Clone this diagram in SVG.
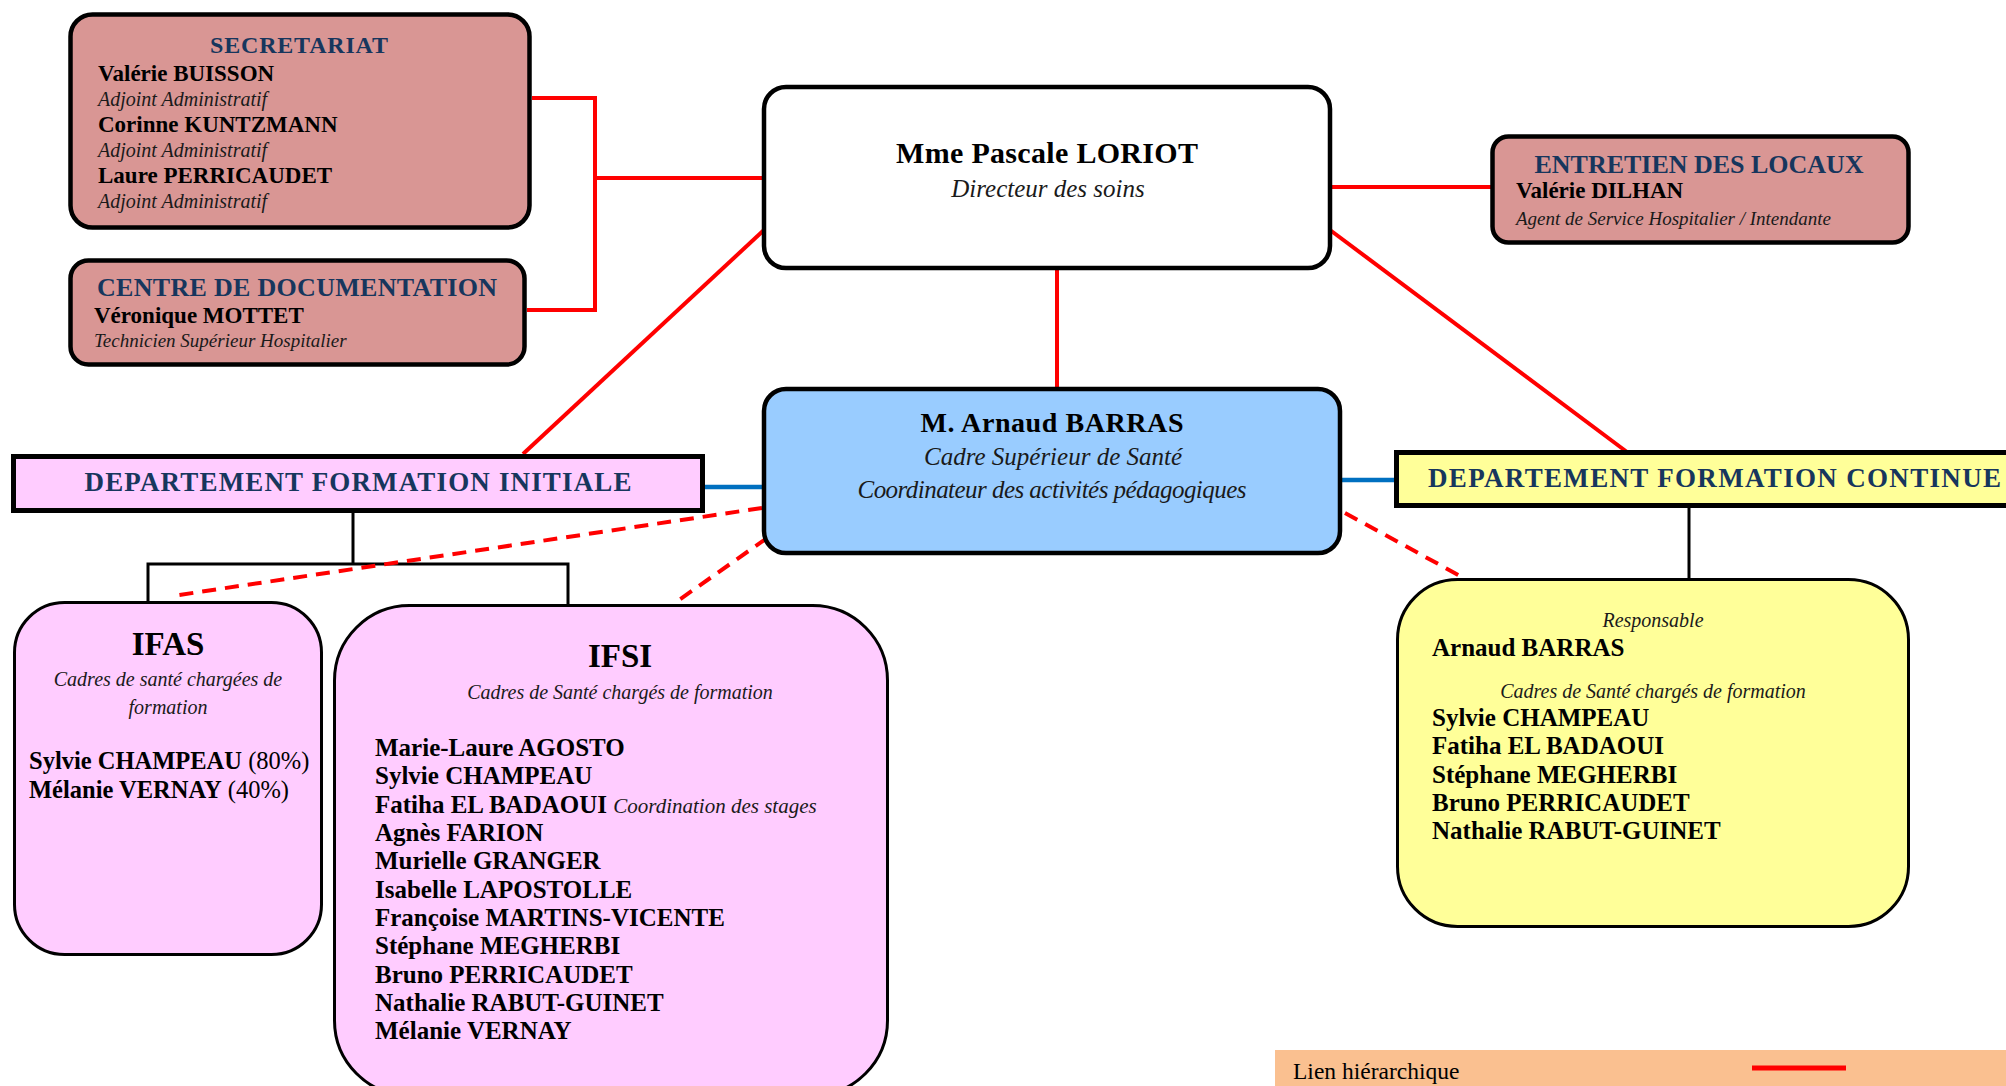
<svg xmlns="http://www.w3.org/2000/svg" width="2006" height="1086" viewBox="0 0 2006 1086">
<style>
  text { font-family: "Liberation Serif", "Times New Roman", serif; fill: #000; }
  .title { font-weight: bold; fill: #17365D; }
  .b { font-weight: bold; }
  .r { font-weight: normal; }
  .i { font-style: italic; fill: #1a1a1a; }
  .mid { text-anchor: middle; }
  .box { stroke: #000; stroke-width: 4.5; }
  .thick { stroke: #000; stroke-width: 5; }
  .thin { stroke: #000; stroke-width: 3; }
  .rose { fill: #D99694; }
  .white { fill: #FFFFFF; }
  .sky { fill: #99CCFF; }
  .pink { fill: #FFCCFF; }
  .yellow { fill: #FFFF99; }
  .red { stroke: #FF0000; stroke-width: 4; fill: none; }
  .dash { stroke: #FF0000; stroke-width: 4; stroke-dasharray: 14 9; fill: none; }
  .blue { stroke: #0070C0; stroke-width: 4.5; fill: none; }
  .blk { stroke: #000; stroke-width: 3; fill: none; }
  .nm { font-weight: bold; font-size: 25px; }
</style>

<g id="connectors">
  <polyline class="red" points="532,98 595,98 595,310 527,310"/>
  <line class="red" x1="595" y1="178" x2="764" y2="178"/>
  <line class="red" x1="1057" y1="268" x2="1057" y2="389"/>
  <line class="red" x1="1330" y1="187" x2="1492" y2="187"/>
  <line class="red" x1="764" y1="230" x2="523" y2="454"/>
  <line class="red" x1="1330" y1="230" x2="1627" y2="452"/>
  <line class="blue" x1="703" y1="487" x2="764" y2="487"/>
  <line class="blue" x1="1340" y1="480" x2="1396" y2="480"/>
  <line class="blk" x1="353" y1="511" x2="353" y2="564"/>
  <polyline class="blk" points="148,602 148,564 568,564 568,605"/>
  <line class="blk" x1="1689" y1="506" x2="1689" y2="580"/>
  <line class="dash" x1="762" y1="508" x2="179" y2="595"/>
  <line class="dash" x1="767" y1="538" x2="679" y2="600"/>
  <line class="dash" x1="1345" y1="513" x2="1462" y2="577"/>
</g>

<g id="secretariat">
  <rect class="box rose" x="70.5" y="14.5" width="459" height="213" rx="22"/>
  <text class="title mid" x="299" y="53" font-size="24" textLength="178">SECRETARIAT</text>
  <text class="b" x="98" y="81" font-size="23">Valérie BUISSON</text>
  <text class="i" x="98" y="106" font-size="20">Adjoint Administratif</text>
  <text class="b" x="98" y="132" font-size="23">Corinne KUNTZMANN</text>
  <text class="i" x="98" y="157" font-size="20">Adjoint Administratif</text>
  <text class="b" x="98" y="183" font-size="23">Laure PERRICAUDET</text>
  <text class="i" x="98" y="208" font-size="20">Adjoint Administratif</text>
</g>

<g id="documentation">
  <rect class="box rose" x="70.5" y="260.5" width="454" height="104" rx="18"/>
  <text class="title" x="97" y="296" font-size="26" textLength="400">CENTRE DE DOCUMENTATION</text>
  <text class="b" x="94" y="323" font-size="23">Véronique MOTTET</text>
  <text class="i" x="94" y="347" font-size="19">Technicien Supérieur Hospitalier</text>
</g>

<g id="loriot">
  <rect class="box white" x="764" y="87" width="566" height="181" rx="22"/>
  <text class="b mid" x="1047" y="163" font-size="30" textLength="302">Mme Pascale LORIOT</text>
  <text class="i mid" x="1048" y="197" font-size="25">Directeur des soins</text>
</g>

<g id="entretien">
  <rect class="box rose" x="1492.5" y="136.5" width="416" height="106" rx="16"/>
  <text class="title mid" x="1699" y="173" font-size="26" textLength="329">ENTRETIEN DES LOCAUX</text>
  <text class="b" x="1516" y="198" font-size="23">Valérie DILHAN</text>
  <text class="i" x="1516" y="225" font-size="19">Agent de Service Hospitalier / Intendante</text>
</g>

<g id="barras">
  <rect class="box sky" x="764" y="389" width="576" height="164" rx="22"/>
  <text class="b mid" x="1052" y="432" font-size="28" textLength="263">M. Arnaud BARRAS</text>
  <text class="i mid" x="1053" y="465" font-size="25">Cadre Supérieur de Santé</text>
  <text class="i mid" x="1052" y="498" font-size="25" textLength="389">Coordinateur des activités pédagogiques</text>
</g>

<g id="dept-initiale">
  <rect class="thick pink" x="13.5" y="456.5" width="689" height="54"/>
  <text class="title mid" x="358" y="491" font-size="27" textLength="547">DEPARTEMENT FORMATION INITIALE</text>
</g>

<g id="dept-continue">
  <rect class="thick yellow" x="1396.5" y="452.5" width="640" height="53"/>
  <text class="title" x="1428" y="487" font-size="27" textLength="573">DEPARTEMENT FORMATION CONTINUE</text>
</g>

<g id="ifas">
  <rect class="thin pink" x="14.5" y="602.5" width="307" height="352" rx="50"/>
  <text class="b mid" x="168" y="655" font-size="33">IFAS</text>
  <text class="i mid" x="168" y="686" font-size="20">Cadres de santé chargées de</text>
  <text class="i mid" x="168" y="714" font-size="20">formation</text>
  <text class="b" x="29" y="769" font-size="24.5">Sylvie CHAMPEAU<tspan class="r"> (80%)</tspan></text>
  <text class="b" x="29" y="798" font-size="24.5">Mélanie VERNAY<tspan class="r"> (40%)</tspan></text>
</g>

<g id="ifsi">
  <rect class="thin pink" x="334.5" y="605.5" width="553" height="490" rx="75"/>
  <text class="b mid" x="620" y="667" font-size="33">IFSI</text>
  <text class="i mid" x="620" y="699" font-size="20">Cadres de Santé chargés de formation</text>
  <text class="nm" x="375" y="756">Marie-Laure AGOSTO</text>
  <text class="nm" x="375" y="784">Sylvie CHAMPEAU</text>
  <text class="nm" x="375" y="813">Fatiha EL BADAOUI <tspan class="i" font-weight="normal" font-size="21">Coordination des stages</tspan></text>
  <text class="nm" x="375" y="841">Agnès FARION</text>
  <text class="nm" x="375" y="869">Murielle GRANGER</text>
  <text class="nm" x="375" y="898">Isabelle LAPOSTOLLE</text>
  <text class="nm" x="375" y="926">Françoise MARTINS-VICENTE</text>
  <text class="nm" x="375" y="954">Stéphane MEGHERBI</text>
  <text class="nm" x="375" y="983">Bruno PERRICAUDET</text>
  <text class="nm" x="375" y="1011">Nathalie RABUT-GUINET</text>
  <text class="nm" x="375" y="1039">Mélanie VERNAY</text>
</g>

<g id="formation-continue">
  <rect class="thin yellow" x="1397.5" y="579.5" width="511" height="347" rx="60"/>
  <text class="i mid" x="1653" y="627" font-size="20">Responsable</text>
  <text class="nm" x="1432" y="656">Arnaud BARRAS</text>
  <text class="i mid" x="1653" y="698" font-size="20">Cadres de Santé chargés de formation</text>
  <text class="nm" x="1432" y="726">Sylvie CHAMPEAU</text>
  <text class="nm" x="1432" y="754">Fatiha EL BADAOUI</text>
  <text class="nm" x="1432" y="783">Stéphane MEGHERBI</text>
  <text class="nm" x="1432" y="811">Bruno PERRICAUDET</text>
  <text class="nm" x="1432" y="839">Nathalie RABUT-GUINET</text>
</g>

<g id="legend">
  <rect x="1275" y="1050" width="731" height="36" fill="#FAC090"/>
  <text x="1293" y="1079" font-size="23.5">Lien hiérarchique</text>
  <line x1="1752" y1="1068" x2="1846" y2="1068" stroke="#FF0000" stroke-width="5"/>
</g>
</svg>
